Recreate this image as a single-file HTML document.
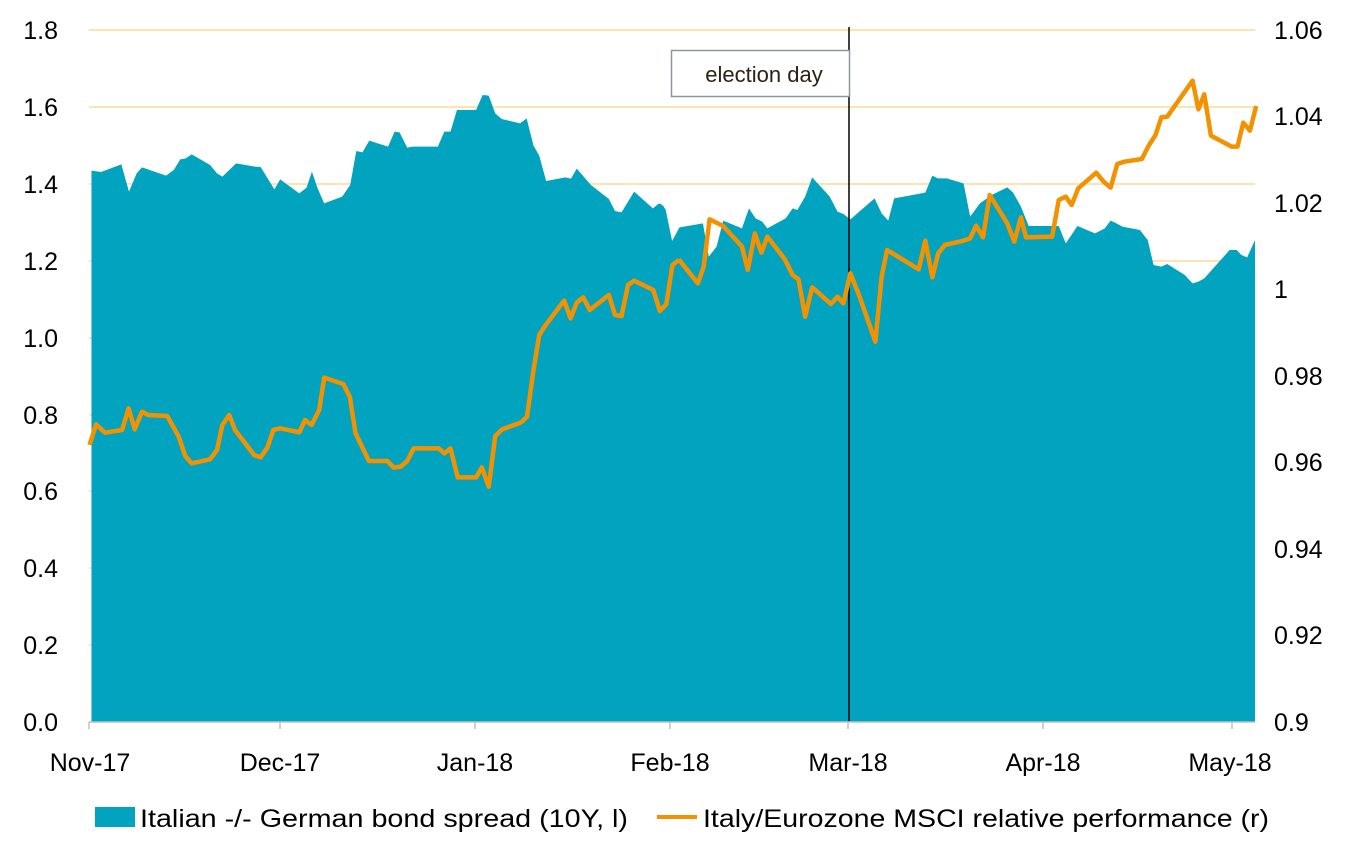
<!DOCTYPE html>
<html><head><meta charset="utf-8"><style>
html,body{margin:0;padding:0;background:#fff;}
svg{display:block;font-family:"Liberation Sans",sans-serif;}
</style></head><body>
<svg width="1359" height="853" viewBox="0 0 1359 853" xmlns="http://www.w3.org/2000/svg">
<g stroke="#FDE3B0" stroke-width="2">
<line x1="89" x2="1255" y1="30" y2="30"/><line x1="89" x2="1255" y1="107" y2="107"/>
<line x1="89" x2="1255" y1="184" y2="184"/><line x1="89" x2="1255" y1="261" y2="261"/>
<line x1="89" x2="1255" y1="338" y2="338"/><line x1="89" x2="1255" y1="415" y2="415"/>
<line x1="89" x2="1255" y1="491" y2="491"/><line x1="89" x2="1255" y1="568" y2="568"/>
<line x1="89" x2="1255" y1="645" y2="645"/>
</g>
<g transform="translate(80,80) scale(0.3827,0.33333)" fill="#02A3BF">
<polygon points="30,1926 30,272 55,276 108,253 128,335 148,280 162,262 225,287 245,270 262,238 275,236 292,223 340,255 358,280 372,290 408,250 458,260 472,261 508,328 523,298 573,340 592,323 606,275 620,322 638,370 685,350 706,315 722,213 738,217 756,182 805,200 822,155 835,157 855,203 870,200 935,200 952,155 968,155 985,90 1035,90 1052,45 1068,47 1085,100 1102,117 1150,130 1167,115 1185,197 1200,227 1218,303 1268,292 1283,296 1298,266 1335,315 1382,357 1398,393 1415,397 1448,335 1497,385 1513,370 1530,387 1548,487 1565,445 1565,1926"/>
</g>
<g transform="translate(660,60) scale(0.39017,0.33333)" fill="#02A3BF">
<polygon points="0,1986 0,430 10,440 30,545 50,502 110,490 125,590 145,560 162,482 210,505 228,445 245,475 262,485 275,505 322,475 340,445 352,450 372,410 390,352 435,410 455,455 470,462 488,478 550,415 568,460 585,482 600,415 680,398 698,347 712,355 735,355 778,370 795,470 820,430 850,405 890,382 905,398 925,440 945,498 1022,498 1040,550 1070,498 1115,520 1140,505 1155,482 1170,490 1185,500 1230,510 1250,540 1265,615 1285,620 1300,612 1345,645 1365,670 1380,665 1395,655 1460,570 1478,570 1490,585 1505,592 1525,540 1525,1986"/>
</g>
<line x1="849" x2="849" y1="27" y2="721" stroke="#000" stroke-width="1.5"/>
<g transform="translate(80,80) scale(0.3827,0.33333)" fill="none" stroke="#F39200" stroke-width="4.5" stroke-linejoin="round">
<polyline vector-effect="non-scaling-stroke" points="25,1095 42,1033 65,1058 110,1050 127,985 143,1048 162,995 178,1005 228,1008 258,1070 275,1128 292,1150 340,1138 358,1110 372,1035 390,1005 405,1050 455,1125 472,1132 490,1102 505,1050 523,1045 573,1057 588,1020 605,1035 625,990 638,893 688,912 705,950 720,1060 755,1143 803,1143 820,1163 838,1160 855,1143 872,1105 937,1105 952,1120 968,1105 987,1192 1035,1192 1050,1162 1068,1220 1085,1068 1103,1048 1153,1027 1168,1010 1185,870 1200,765 1215,738 1265,662 1282,715 1298,668 1315,652 1332,690 1382,645 1398,705 1415,708 1432,615 1448,602 1498,630 1515,693 1532,673 1548,555 1565,540"/>
</g>
<g transform="translate(660,60) scale(0.39017,0.33333)" fill="none" stroke="#F39200" stroke-width="4.5" stroke-linejoin="round">
<polyline vector-effect="non-scaling-stroke" points="48,598 97,670 112,620 127,478 162,498 210,560 225,630 243,520 260,578 275,530 320,598 340,645 355,658 372,770 390,682 438,732 455,710 470,730 488,640 510,705 552,845 568,650 582,570 663,628 680,542 698,652 713,580 730,555 778,542 795,535 810,497 828,532 845,405 890,490 908,545 925,472 938,532 1005,530 1022,420 1040,410 1055,435 1072,385 1118,338 1137,365 1155,383 1172,312 1190,305 1235,297 1252,258 1270,225 1285,172 1300,170 1365,62 1380,148 1395,103 1412,227 1465,260 1480,260 1495,188 1512,212 1528,138"/>
</g>
<line x1="89" x2="1255" y1="722" y2="722" stroke="#BFBFBF" stroke-width="1.5"/>
<g stroke="#BFBFBF" stroke-width="1.5">
<line x1="89" x2="89" y1="722" y2="729"/><line x1="280" x2="280" y1="722" y2="729"/>
<line x1="475" x2="475" y1="722" y2="729"/><line x1="670" x2="670" y1="722" y2="729"/>
<line x1="848" x2="848" y1="722" y2="729"/><line x1="1043" x2="1043" y1="722" y2="729"/>
<line x1="1232" x2="1232" y1="722" y2="729"/>
</g>
<rect x="671.5" y="50.5" width="178" height="46" fill="#fff" stroke="#8C96A0" stroke-width="1.5"/>
<text x="764" y="82" font-size="22" text-anchor="middle" fill="#2b2216">election day</text>
<g font-size="25" fill="#000" text-anchor="end">
<text x="58" y="39">1.8</text><text x="58" y="116">1.6</text><text x="58" y="193">1.4</text>
<text x="58" y="270">1.2</text><text x="58" y="347">1.0</text><text x="58" y="424">0.8</text>
<text x="58" y="500">0.6</text><text x="58" y="577">0.4</text><text x="58" y="654">0.2</text>
<text x="58" y="731">0.0</text>
</g>
<g font-size="25" fill="#000">
<text x="1274" y="39">1.06</text><text x="1274" y="125">1.04</text><text x="1274" y="212">1.02</text>
<text x="1274" y="298">1</text><text x="1274" y="385">0.98</text><text x="1274" y="471">0.96</text>
<text x="1274" y="558">0.94</text><text x="1274" y="644">0.92</text><text x="1274" y="731">0.9</text>
</g>
<g font-size="25" fill="#000" text-anchor="middle">
<text x="90" y="771">Nov-17</text><text x="280" y="771">Dec-17</text><text x="475" y="771">Jan-18</text>
<text x="670" y="771">Feb-18</text><text x="848" y="771">Mar-18</text><text x="1043" y="771">Apr-18</text>
<text x="1230" y="771">May-18</text>
</g>
<rect x="95" y="807" width="40" height="20" fill="#02A3BF"/>
<text x="140" y="827" font-size="25" textLength="488" lengthAdjust="spacingAndGlyphs">Italian -/- German bond spread (10Y, l)</text>
<line x1="657" x2="697" y1="817" y2="817" stroke="#F39200" stroke-width="4"/>
<text x="703" y="827" font-size="25" textLength="566" lengthAdjust="spacingAndGlyphs">Italy/Eurozone MSCI relative performance (r)</text>
</svg>
</body></html>
